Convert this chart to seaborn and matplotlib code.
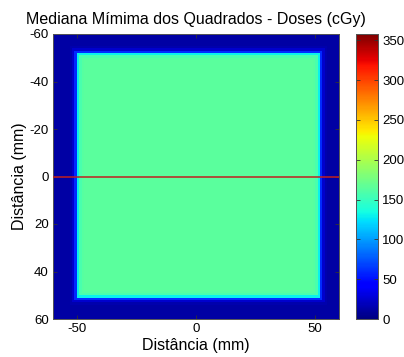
import numpy as np
import pandas as pd
import matplotlib
matplotlib.use("Agg")
import matplotlib.pyplot as plt
import seaborn as sns

# ---- data (1 mm cells, -60..60 mm) ----
bg = 12
x_profile = [bg] * 7 + [15, 25, 60, 130, 158, 163] + [165] * 96 + [163, 158, 130, 60, 25, 15] + [bg] * 5
y_profile = [bg] * 5 + [15, 25, 60, 130, 158, 163] + [165] * 97 + [163, 158, 130, 60, 25, 15] + [bg] * 6
x_ticks_mm = [-50, 0, 50]
y_ticks_mm = [-60, -40, -20, 0, 20, 40, 60]
cbar_ticks = [0, 50, 100, 150, 200, 250, 300, 350]
vmin, vmax = 0, 358
title = "Mediana Mímima dos Quadrados - Doses (cGy)"
xlabel = "Distância (mm)"
ylabel = "Distância (mm)"
line_y_mm = 0

xp = np.array(x_profile, dtype=float)
yp = np.array(y_profile, dtype=float)
grid = np.minimum(yp[:, None], xp[None, :])
df = pd.DataFrame(grid)

plt.rcParams['font.family'] = ['Liberation Sans', 'DejaVu Sans']

fig = plt.figure(figsize=(4.04, 3.57), dpi=100)
ax = fig.add_axes([53 / 404, 1 - 319 / 357, 286 / 404, 285 / 357])
cax = fig.add_axes([356 / 404, 1 - 319 / 357, 22 / 404, 285 / 357])

sns.heatmap(df, ax=ax, cbar_ax=cax, cmap="jet", vmin=vmin, vmax=vmax,
            xticklabels=False, yticklabels=False, rasterized=True)

ax.set_xticks([v + 60 for v in x_ticks_mm])
ax.set_xticklabels([str(v) for v in x_ticks_mm], fontsize=9.5, rotation=0)
ax.set_yticks([v + 60 for v in y_ticks_mm])
ax.set_yticklabels([str(v) for v in y_ticks_mm], fontsize=9.5, rotation=0)
ax.tick_params(direction="in", length=3, width=0.6, top=True, right=True, color="#333333", pad=3)

ax.axhline(line_y_mm + 60, color="#c02020", lw=1.1, zorder=5)

for s in ax.spines.values():
    s.set_visible(True)
    s.set_linewidth(0.7)
    s.set_color("#555555")

ax.set_title(title, fontsize=11.5, pad=7)
ax.set_xlabel(xlabel, fontsize=11.5, labelpad=2)
ax.set_ylabel(ylabel, fontsize=11.5, labelpad=2)

cax.set_yticks(cbar_ticks)
cax.set_yticklabels([str(v) for v in cbar_ticks], fontsize=9.5)
cax.tick_params(direction="in", length=3, width=0.6, left=True, right=True, color="#333333", pad=3)
for s in cax.spines.values():
    s.set_visible(True)
    s.set_linewidth(0.7)
    s.set_color("#555555")

fig.savefig("out.png", dpi=100)
